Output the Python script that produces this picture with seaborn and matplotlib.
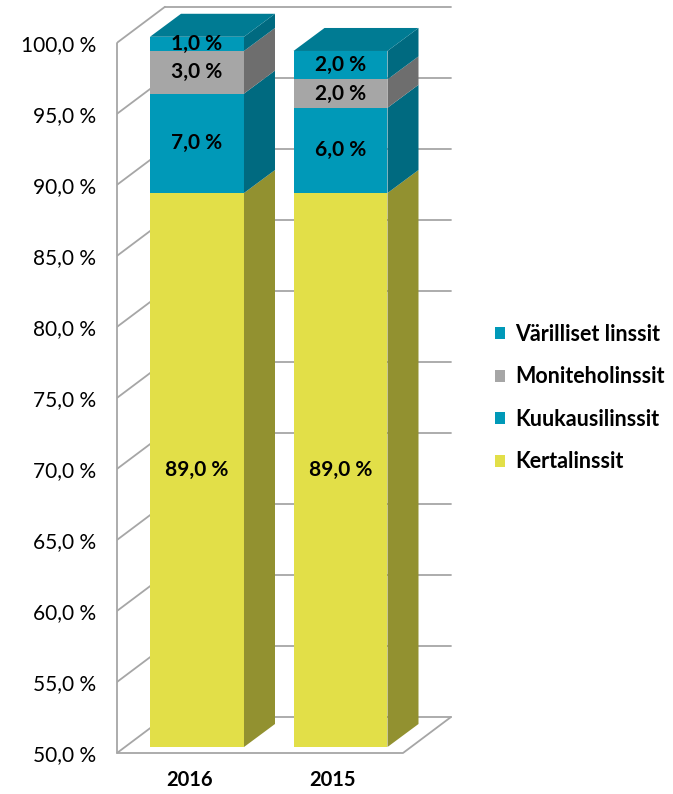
import numpy as np
import seaborn as sns
import matplotlib.pyplot as plt
import matplotlib.transforms as mtransforms
from matplotlib.patches import Polygon, Patch

# data
years = ['2016', '2015']
series = ['Kertalinssit', 'Kuukausilinssit', 'Moniteholinssit', 'Värilliset linssit']
values = {
    'Kertalinssit': [89.0, 89.0],
    'Kuukausilinssit': [7.0, 6.0],
    'Moniteholinssit': [3.0, 2.0],
    'Värilliset linssit': [1.0, 2.0],
}
y_ticks = [50, 55, 60, 65, 70, 75, 80, 85, 90, 95, 100]

# colours: front, side, top
front = {'Kertalinssit': '#e2df48', 'Kuukausilinssit': '#0099b8',
         'Moniteholinssit': '#a6a6a6', 'Värilliset linssit': '#0099b8'}
side = {'Kertalinssit': '#929130', 'Kuukausilinssit': '#006a80',
        'Moniteholinssit': '#6e6e6e', 'Värilliset linssit': '#006a80'}
top_col = '#007b93'

sns.set_style('white')
plt.rcParams['font.family'] = ['Lato', 'DejaVu Sans']
plt.rcParams['text.color'] = 'black'
plt.rcParams['xtick.color'] = 'black'
plt.rcParams['ytick.color'] = 'black'

fig = plt.figure(figsize=(6.73, 7.94), dpi=100)
ax = fig.add_axes([117 / 673, 41 / 794, 343 / 673, 750 / 794])

y0, y1 = 50, 102.8
px_per_pct = 750 / (y1 - y0)
unit_px = 143.5
# depth offsets (data units)
bdx, bdy = 31 / unit_px, 23 / px_per_pct      # bars
wdx, wdy = 48 / unit_px, 36 / px_per_pct      # walls
x_left = -80 / unit_px
x_floor_right = 1 + 62.5 / unit_px

# bars sit a little behind the front plane of the walls
bar_tr = ax.transData + mtransforms.ScaledTranslation(0, 6 / 100, fig.dpi_scale_trans)

grid_c = '#a6a6a6'
lw = 1.3
# left wall diagonals + back wall gridlines
for t in y_ticks:
    ax.plot([x_left, x_left + wdx], [t, t + wdy], color=grid_c, lw=lw, zorder=1)
    ax.plot([x_left + wdx, x_floor_right + wdx], [t + wdy] * 2, color=grid_c, lw=lw, zorder=1)
# left front edge
ax.plot([x_left, x_left], [50, 100], color=grid_c, lw=lw, zorder=1, clip_on=False)
# floor
ax.plot([x_left, x_floor_right, x_floor_right + wdx], [50, 50, 50 + wdy],
        color=grid_c, lw=lw, zorder=1, clip_on=False)

# stacked bars
bottom = np.zeros(len(years))
for s in series:
    sns.barplot(x=years, y=values[s], bottom=bottom, color=front[s],
                saturation=1, width=0.655, ax=ax, zorder=3, linewidth=0)
    bottom = bottom + np.array(values[s])

# side and top faces from the bar patches
for cont, s in zip(ax.containers, series):
    for i, p in enumerate(cont.patches):
        xl = p.get_x()
        xr = xl + p.get_width()
        yt = p.get_y() + p.get_height()
        yb = max(p.get_y(), y0)
        p.set_y(yb)
        p.set_height(yt - yb)
        p.set_transform(bar_tr)
        ax.add_patch(Polygon([[xr, yb], [xr + bdx, yb + bdy], [xr + bdx, yt + bdy], [xr, yt]],
                             closed=True, facecolor=side[s], edgecolor='none', zorder=3,
                             transform=bar_tr))
        if s == series[-1]:
            ax.add_patch(Polygon([[xl, yt], [xr, yt], [xr + bdx, yt + bdy], [xl + bdx, yt + bdy]],
                                 closed=True, facecolor=top_col, edgecolor='none', zorder=3,
                                 transform=bar_tr))
        lab = f'{values[s][i]:.1f} %'.replace('.', ',')
        ax.text((xl + xr) / 2, (yb + yt) / 2, lab, color='black', transform=bar_tr,
                ha='center', va='center', fontsize=15, fontweight='bold', zorder=5)

ax.set_xlim(x_left, 1 + (460 - 340.5) / unit_px)
ax.set_ylim(y0, y1)
ax.set_yticks(y_ticks, [f'{t:.1f} %'.replace('.', ',') for t in y_ticks])
ax.set_xticks([i - 0.055 for i in range(len(years))], years)
ax.tick_params(axis='y', length=0, pad=15, labelsize=15)
ax.tick_params(axis='x', length=0, pad=12.5, labelsize=14.5)
for lbl in ax.get_xticklabels():
    lbl.set_fontweight('bold')
for sp in ax.spines.values():
    sp.set_visible(False)
ax.set_facecolor('none')

handles = [Patch(facecolor=front[s], edgecolor='none', label=s) for s in series[::-1]]
fig.legend(handles=handles, loc='center left', bbox_to_anchor=(476 / 673, 1 - 398 / 794),
           frameon=False, prop={'weight': 'bold', 'size': 15.5},
           handlelength=0.47, handleheight=0.47, handletextpad=0.47, labelspacing=1.0)

fig.savefig('out.png', dpi=100)
